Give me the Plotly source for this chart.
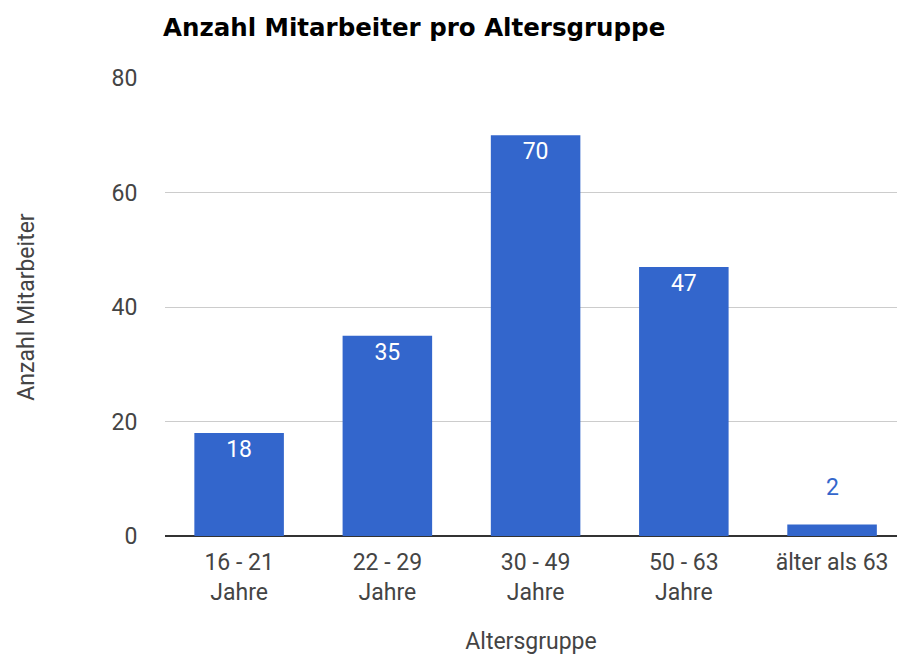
import plotly.graph_objects as go

categories = ["16 - 21<br>Jahre", "22 - 29<br>Jahre", "30 - 49<br>Jahre", "50 - 63<br>Jahre", "älter als 63"]
values = [18, 35, 70, 47, 2]
y_ticks = [0, 20, 40, 60, 80]

BLUE = "#3366cc"
FONT = "Roboto"
FS = 23
W, H = 897, 655
x_idx = list(range(len(values)))

inside = [v >= 5 for v in values]
texts = [str(v) if ins else "" for v, ins in zip(values, inside)]

fig = go.Figure()
fig.add_trace(go.Bar(
    x=x_idx, y=values, width=0.604,
    marker=dict(color=BLUE, line=dict(width=0)),
    text=texts, textposition="inside",
    insidetextanchor="end",
    textangle=0,
    insidetextfont=dict(color="white", size=FS, family=FONT),
    cliponaxis=False,
    hoverinfo="skip",
))

# labels for bars too short to hold their value
annotations = [
    dict(x=i, y=v, xref="x", yref="y", yanchor="middle", yshift=37,
         text=str(v), showarrow=False,
         font=dict(color=BLUE, size=FS, family=FONT))
    for i, (v, ins) in enumerate(zip(values, inside)) if not ins
]

fig.update_layout(
    width=W, height=H,
    margin=dict(l=165, r=0, t=78, b=H - 536, pad=0),
    paper_bgcolor="white", plot_bgcolor="white",
    showlegend=False,
    title=dict(text="<b>Anzahl Mitarbeiter pro Altersgruppe</b>",
               x=163 / W, xanchor="left", y=1 - 27 / H, yanchor="middle",
               font=dict(family="DejaVu Sans", size=24.5, color="#000")),
    xaxis=dict(
        tickvals=x_idx, ticktext=categories,
        range=[-0.5, 4.438],
        showgrid=False, zeroline=False, showline=False,
        ticks="outside", ticklen=5, tickcolor="rgba(0,0,0,0)",
        tickfont=dict(family=FONT, size=FS, color="#444"),
        title=dict(text="Altersgruppe", standoff=29,
                   font=dict(family=FONT, size=FS, color="#444")),
    ),
    yaxis=dict(
        range=[0, 80], tickvals=y_ticks,
        showgrid=True, gridcolor="#cccccc", gridwidth=1,
        zeroline=True, zerolinecolor="#333333", zerolinewidth=2,
        showline=False,
        ticks="outside", ticklen=22, tickcolor="rgba(0,0,0,0)",
        tickfont=dict(family=FONT, size=FS, color="#444"),
        title=dict(text="Anzahl Mitarbeiter", standoff=70,
                   font=dict(family=FONT, size=FS, color="#444")),
    ),
    annotations=annotations,
)

fig.write_html(
    "out.html",
    config={"displayModeBar": False},
    post_script="document.body.style.margin='0';document.body.style.overflow='hidden';",
)
